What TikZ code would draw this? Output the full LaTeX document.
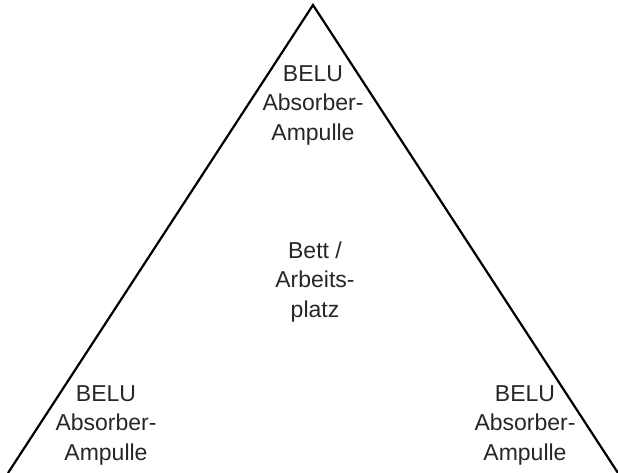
\documentclass[tikz,border=0pt]{standalone}
\usepackage{fontspec}
\setmainfont{Liberation Sans}
\usetikzlibrary{positioning}

\begin{document}
\begin{tikzpicture}[x=1pt,y=1pt,label/.style={align=center,inner sep=0,text=black!85,font=\fontsize{23}{29.5}\selectfont},side/.style={draw=black,line width=2.2pt}]

\useasboundingbox (0,0) rectangle (618,473);

% corners
\coordinate (apex) at (313,468);
\coordinate (left) at (8,0);
\coordinate (right) at (618,0);

% Nodes
\node[label] (top) at (313,368) {BELU\\Absorber-\\Ampulle};
\node[label] (centre) at (315,191) {Bett /\\Arbeits-\\platz};
\node[label] (bl) at (106,48) {BELU\\Absorber-\\Ampulle};
\node[label] (br) at (525,48) {BELU\\Absorber-\\Ampulle};

%sides
\draw[side] (left) -- (apex) -- (right);

\end{tikzpicture}
\end{document}
